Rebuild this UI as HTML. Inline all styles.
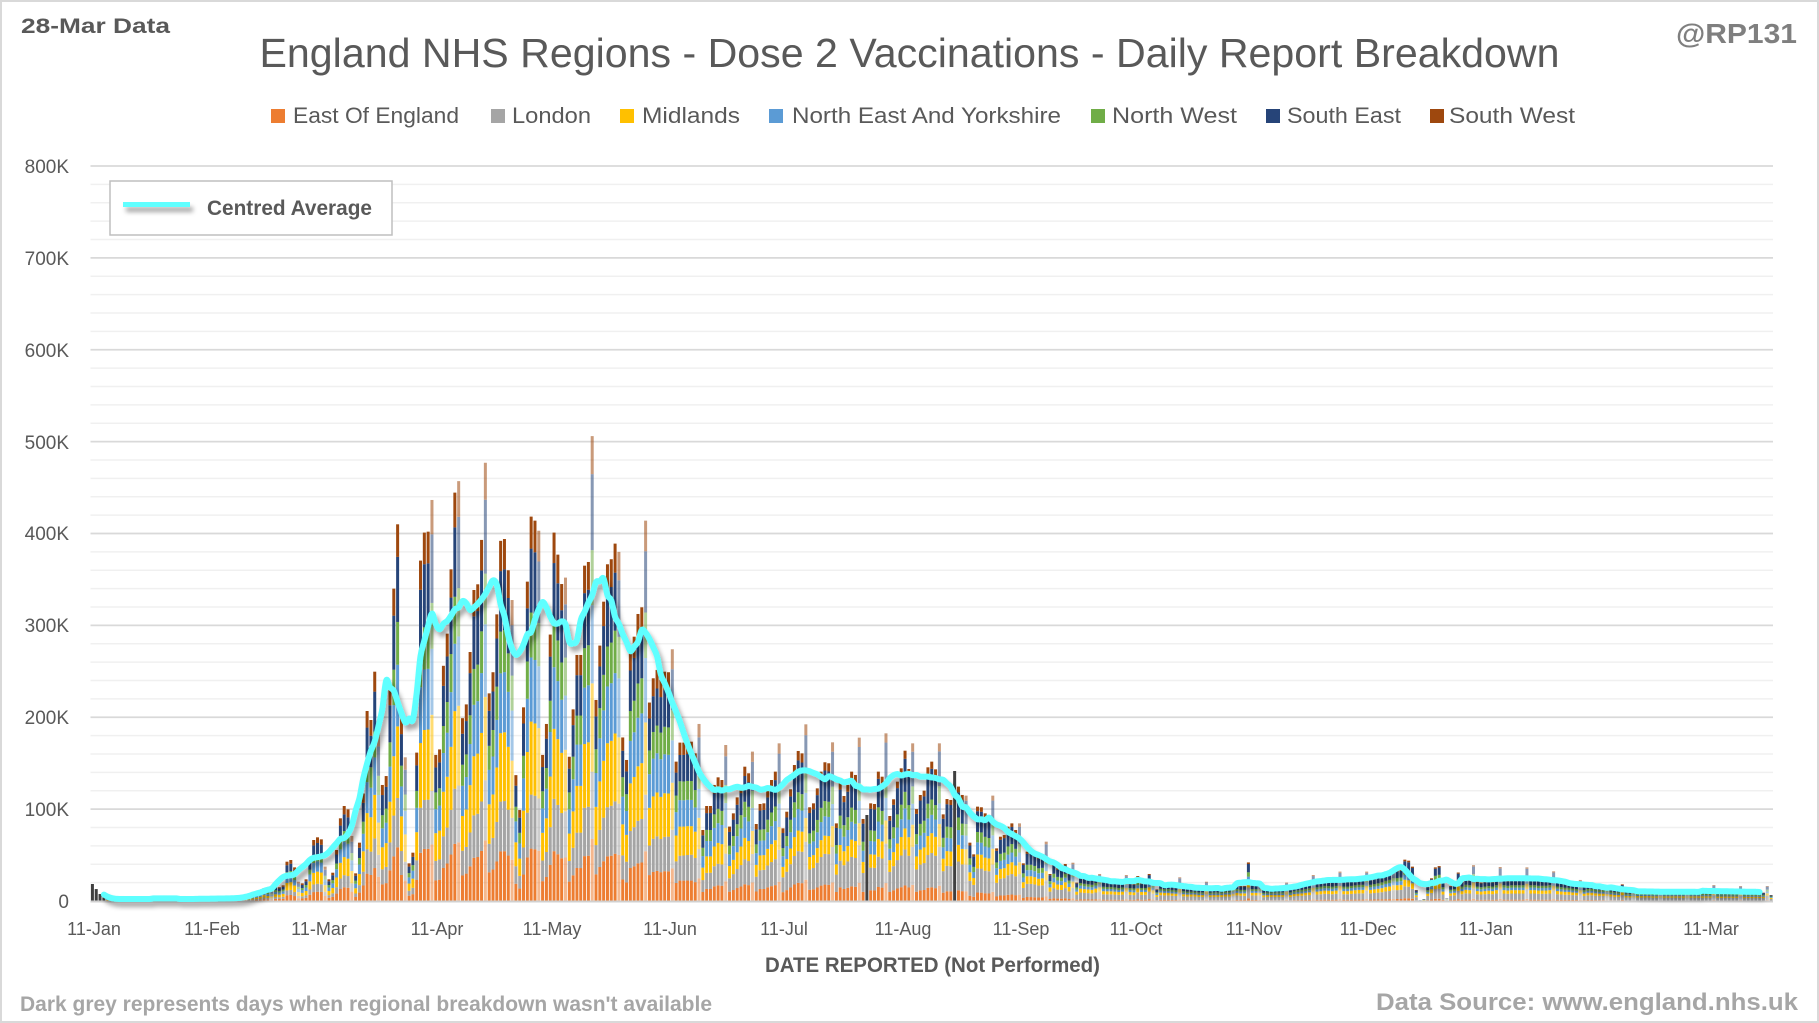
<!DOCTYPE html>
<html>
<head>
<meta charset="utf-8">
<style>
html,body{margin:0;padding:0;width:1819px;height:1023px;overflow:hidden;background:#fff;}
svg{display:block;}
text{font-family:"Liberation Sans",Arial,sans-serif;}
</style>
</head>
<body>
<svg id="chart" xmlns="http://www.w3.org/2000/svg" width="1819" height="1023" viewBox="0 0 1819 1023">
<defs>
<filter id="sh" x="-2%" y="-10%" width="104%" height="130%">
<feGaussianBlur in="SourceAlpha" stdDeviation="2.5"/>
<feOffset dx="3" dy="5" result="b"/>
<feFlood flood-color="#000" flood-opacity="0.35"/>
<feComposite in2="b" operator="in"/>
<feMerge><feMergeNode/><feMergeNode in="SourceGraphic"/></feMerge>
</filter>
<filter id="sh2" filterUnits="userSpaceOnUse" x="110" y="190" width="100" height="35">
<feGaussianBlur in="SourceAlpha" stdDeviation="2.5"/>
<feOffset dx="3" dy="5" result="b"/>
<feFlood flood-color="#000" flood-opacity="0.35"/>
<feComposite in2="b" operator="in"/>
<feMerge><feMergeNode/><feMergeNode in="SourceGraphic"/></feMerge>
</filter>
</defs>
<rect x="0" y="0" width="1819" height="1023" fill="#fff"/>
<rect x="1" y="1" width="1817" height="1021" fill="none" stroke="#d9d9d9" stroke-width="2"/>

<!-- header texts -->
<text x="21" y="33" font-size="21" font-weight="bold" fill="#595959" textLength="149" lengthAdjust="spacingAndGlyphs">28-Mar Data</text>
<text x="1676" y="43" font-size="28" font-weight="bold" fill="#7f7f7f" textLength="121" lengthAdjust="spacingAndGlyphs">@RP131</text>
<text x="259.5" y="67" font-size="41" fill="#595959" textLength="1300" lengthAdjust="spacingAndGlyphs">England NHS Regions - Dose 2 Vaccinations - Daily Report Breakdown</text>

<!-- legend row -->
<g font-size="22" fill="#595959">
<rect x="271" y="109" width="14" height="14" fill="#ED7D31"/>
<text x="293" y="123" textLength="166" lengthAdjust="spacingAndGlyphs">East Of England</text>
<rect x="491" y="109" width="14" height="14" fill="#A5A5A5"/>
<text x="512" y="123" textLength="79" lengthAdjust="spacingAndGlyphs">London</text>
<rect x="620" y="109" width="14" height="14" fill="#FFC000"/>
<text x="642" y="123" textLength="98" lengthAdjust="spacingAndGlyphs">Midlands</text>
<rect x="769" y="109" width="14" height="14" fill="#5B9BD5"/>
<text x="792" y="123" textLength="269" lengthAdjust="spacingAndGlyphs">North East And Yorkshire</text>
<rect x="1091" y="109" width="14" height="14" fill="#70AD47"/>
<text x="1112" y="123" textLength="125" lengthAdjust="spacingAndGlyphs">North West</text>
<rect x="1266" y="109" width="14" height="14" fill="#264478"/>
<text x="1287" y="123" textLength="114" lengthAdjust="spacingAndGlyphs">South East</text>
<rect x="1430" y="109" width="14" height="14" fill="#9E480E"/>
<text x="1449" y="123" textLength="126" lengthAdjust="spacingAndGlyphs">South West</text>
</g>

<!-- gridlines -->
<g id="grid"></g>

<!-- y labels -->
<g font-size="19" fill="#595959" text-anchor="end">
<text x="69" y="173">800K</text>
<text x="69" y="265">700K</text>
<text x="69" y="357">600K</text>
<text x="69" y="449">500K</text>
<text x="69" y="540">400K</text>
<text x="69" y="632">300K</text>
<text x="69" y="724">200K</text>
<text x="69" y="816">100K</text>
<text x="69" y="908">0</text>
</g>

<!-- bars -->
<g id="bars"></g>

<!-- x axis line -->
<line x1="90.5" y1="901.5" x2="1773" y2="901.5" stroke="#d0d0d0" stroke-width="2"/>

<!-- moving average -->
<path id="ma" d="" fill="none" stroke="#5EFFFF" stroke-width="6" stroke-linejoin="round" stroke-linecap="round" filter="url(#sh)"/>

<!-- x labels -->
<g font-size="18" fill="#595959" text-anchor="middle">
<text x="94" y="935">11-Jan</text>
<text x="212" y="935">11-Feb</text>
<text x="319" y="935">11-Mar</text>
<text x="437" y="935">11-Apr</text>
<text x="552" y="935">11-May</text>
<text x="670" y="935">11-Jun</text>
<text x="784" y="935">11-Jul</text>
<text x="903" y="935">11-Aug</text>
<text x="1021" y="935">11-Sep</text>
<text x="1136" y="935">11-Oct</text>
<text x="1254" y="935">11-Nov</text>
<text x="1368" y="935">11-Dec</text>
<text x="1486" y="935">11-Jan</text>
<text x="1605" y="935">11-Feb</text>
<text x="1711" y="935">11-Mar</text>
</g>

<text x="765" y="972" font-size="21" font-weight="bold" fill="#595959" textLength="335" lengthAdjust="spacingAndGlyphs">DATE REPORTED (Not Performed)</text>

<!-- legend box -->
<rect x="110" y="181" width="282" height="54" fill="#fff" stroke="#bfbfbf" stroke-width="1.5"/>
<rect x="123" y="202" width="67" height="5" fill="#5EFFFF" filter="url(#sh2)"/>
<text x="207" y="215" font-size="21" font-weight="bold" fill="#595959" textLength="165" lengthAdjust="spacingAndGlyphs">Centred Average</text>

<!-- footers -->
<text x="20" y="1011" font-size="21" font-weight="bold" fill="#a6a6a6" textLength="692" lengthAdjust="spacingAndGlyphs">Dark grey represents days when regional breakdown wasn't available</text>
<text x="1376" y="1010" font-size="24" font-weight="bold" fill="#a6a6a6" textLength="422" lengthAdjust="spacingAndGlyphs">Data Source: www.england.nhs.uk</text>
</svg>

<script>
(function(){
var T=[
18.5,13,7.6,4,2.5,2,1.5,2.5,2.5,2.5,
2,2,2,1.5,2.5,2.5,2.5,2.5,2,6,
1.5,2.5,2.5,2.5,2.5,2,2,1.5,2.5,2.5,
3,3,2.5,2.5,2,3,3,3,3.5,3,
3.5,4,6,8,10,14,12,11,16,15,
17,42.8,44.6,36.6,21,19.2,23.6,46.4,66.4,69.3,
67.1,37.4,23.6,30.8,55.5,90,103.4,99.8,70.8,30.1,
63.5,117,206.8,197,249.6,184.3,126.3,136,233.3,340,
410,198.8,156.4,41,52.6,161.5,370.5,401,402,436.5,
159,165,256,291,361,444.5,457,199,214,271,
338.5,344.7,393,477,226,249,312,392,394,360,
327.6,137,99,210.8,347.6,418.4,414,403,159,192.7,
290,401,377,345,352,157,208.6,267.8,267.8,365,
369,506,218.8,278,325.8,366.5,372,389,380,178,
153.5,273,287.7,312.4,319.7,414,216,242.4,251.5,241.3,
249.6,249,274,151.7,172.4,172.4,173.4,173.4,160.7,192.7,
77.3,103.4,103.4,126.3,134.6,131.7,169.8,81,95.4,112.8,
126.3,146.2,139,162.6,83.8,105.6,106.3,120.8,131.7,140.8,
171.6,79.1,97.2,121.6,148,163.3,160.7,192.3,102,106.3,
122.6,140.8,151,149.9,172.7,84.5,128.8,114.3,126.3,140.8,
137.2,177.8,89.3,93.6,106.3,105.6,140.8,135.3,182.5,92.5,
110.7,129.9,144.4,163.6,143.7,171.6,100.1,115.4,120.1,145.5,
151.7,143.3,171.6,94.3,111,110,141.5,124.5,115.4,114.7,
63.5,50.8,102.7,102,95.4,93.6,114.7,57.3,70,71.8,
80.9,84.5,77.3,84.5,41,53.7,53.7,51.9,48.3,49,
64.6,29.4,40.3,35.6,34.5,40.3,30.1,41.7,20,26.5,
25.4,24.7,23.9,26.5,29.4,21,20.7,20.7,20,19.2,
20,28.3,19.2,18.5,27.2,19.2,19.2,29.4,22.9,12.7,
18,17.4,17.4,16.3,15.6,25.8,14.5,13.8,13.8,13.8,
12.7,12.7,21,12.4,12.7,12.7,12.7,13.8,13.8,15.6,
17.4,16.3,16.3,42,17.4,17.4,17.4,12,12.7,12.7,
12.7,12.7,12.7,20,12.7,14.8,15.6,16.3,17.4,18.5,
28.3,20,21,22.1,21.8,21,22.1,32,21,21,
22.1,22.9,23.6,23.6,32,23.6,24.7,25.8,27.2,29.4,
30.8,33.4,33.4,34.1,45,43.9,37.4,12,1,2,
15.6,24.7,36.6,38,20,3,16.3,17.4,31,21,
23.6,22.9,39,21,20,21,21.8,21,22.9,37,
22.9,22.1,22.9,22.9,22.9,22.9,36.6,22.9,22.9,22.1,
22.1,22.1,22.9,32.3,21,20,19.2,19.2,18.1,17.4,
22.9,15.6,17.4,17.4,16.3,15.6,15.6,14.8,13.8,12.7,
12.7,18.1,11,10.5,11,10.5,10.5,10.5,10.5,10,
10,10.5,10,10,10,10,10,10,10,10,
10,10,10,10,10,17.4,9.5,9.5,9.5,9.5,
9.5,9.5,16.3,9,9,9,9,9,9,16.3,
6.5];
var N=441;
while(T.length<N)T.push(9);
T=T.slice(0,N);
var x0=90.5,x1=1773,W=(x1-x0)/N,bw=3.0,base=901,k=0.91875;
var g='';
for(var v=20;v<=800;v+=20){
  var y=(base-v*k).toFixed(2);
  var major=(v%100===0);
  g+='<line x1="'+x0+'" y1="'+y+'" x2="'+x1+'" y2="'+y+'" stroke="'+(major?'#d9d9d9':'#f0f0f0')+'" stroke-width="'+(major?1.8:1.6)+'"/>';
}
document.getElementById('grid').innerHTML=g;

var cols=['#ED7D31','#A5A5A5','#FFC000','#5B9BD5','#70AD47','#264478','#9E480E'];
var A=[[40,[.15,.12,.19,.16,.11,.18,.09]],[150,[.13,.15,.19,.17,.12,.16,.08]],[190,[.12,.22,.13,.14,.11,.22,.06]],[260,[.07,.28,.16,.12,.11,.22,.04]],[440,[.06,.30,.16,.12,.12,.20,.04]]];
function fr(d){
  if(d<=A[0][0])return A[0][1];
  for(var j=1;j<A.length;j++){
    if(d<=A[j][0]){
      var t=(d-A[j-1][0])/(A[j][0]-A[j-1][0]);
      var r=[];for(var m=0;m<7;m++)r.push(A[j-1][1][m]*(1-t)+A[j][1][m]*t);
      return r;
    }
  }
  return A[A.length-1][1];
}
var dark={0:1,1:1,2:1,3:1,203:1,226:1};
var s='';
for(var i=0;i<N;i++){
  var v=T[i];
  var x=(x0+(i+0.5)*W-bw/2).toFixed(2);
  if(dark[i]){
    var h=v*k;
    s+='<rect x="'+x+'" y="'+(base-h).toFixed(2)+'" width="'+bw+'" height="'+h.toFixed(2)+'" fill="#3F3F3F"/>';
    continue;
  }
  var f=fr(i),y=base,gg='';
  for(var m=0;m<7;m++){
    var hh=v*f[m]*k; y-=hh;
    gg+='<rect x="'+x+'" y="'+y.toFixed(2)+'" width="'+bw+'" height="'+(hh+0.05).toFixed(2)+'" fill="'+cols[m]+'"/>';
  }
  s+=(i%7===5)?'<g opacity="0.55">'+gg+'</g>':gg;
}
document.getElementById('bars').innerHTML=s;

var P=[];
for(var i=3;i<=N-4;i++){
  var sum=0;for(var j=-3;j<=3;j++)sum+=T[i+j];
  P.push([x0+(i+0.5)*W,base-sum/7*k]);
}
var d='M'+P[0][0].toFixed(1)+' '+P[0][1].toFixed(1);
for(var i=0;i<P.length-1;i++){
  var p0=P[i-1]||P[i],p1=P[i],p2=P[i+1],p3=P[i+2]||P[i+1];
  var c1x=p1[0]+(p2[0]-p0[0])/6,c1y=p1[1]+(p2[1]-p0[1])/6;
  var c2x=p2[0]-(p3[0]-p1[0])/6,c2y=p2[1]-(p3[1]-p1[1])/6;
  d+='C'+c1x.toFixed(1)+' '+c1y.toFixed(1)+' '+c2x.toFixed(1)+' '+c2y.toFixed(1)+' '+p2[0].toFixed(1)+' '+p2[1].toFixed(1);
}
document.getElementById('ma').setAttribute('d',d);
})();
</script>
</body>
</html>
